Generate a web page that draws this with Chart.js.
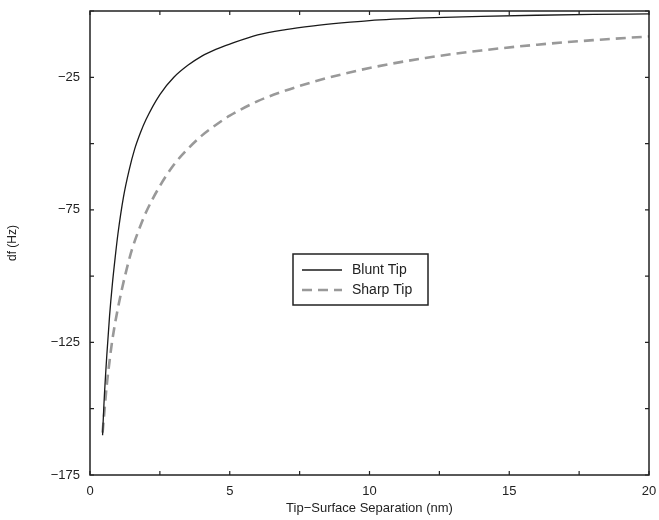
<!DOCTYPE html>
<html>
<head>
<meta charset="utf-8">
<script src="https://cdn.jsdelivr.net/npm/chart.js@4.4.0/dist/chart.umd.min.js"></script>
<style>
  html, body { margin: 0; padding: 0; background: #fff; }
  #wrap { width: 659px; height: 520px; }
</style>
</head>
<body>
<div id="wrap"><canvas id="myChart" width="659" height="520"></canvas></div>
<script>
// separation (nm) and frequency shift (Hz)
const bluntX = [0.45, 0.5, 0.6, 0.7, 0.8, 0.9, 1.0, 1.2, 1.4, 1.6, 1.8, 2.0, 2.5, 3.0, 3.5, 4, 4.5, 5, 6, 7, 8, 9, 10, 12, 14, 16, 18, 20]
const bluntY = [-160, -148, -130, -115, -103, -93, -84, -70, -60, -52, -46, -41, -31.5, -25, -20.5, -17, -14.5, -12.5, -9, -7, -5.6, -4.5, -3.6, -2.6, -2.0, -1.6, -1.3, -1.1]

const sharpX = [0.45, 0.5, 0.6, 0.7, 0.8, 1.0, 1.25, 1.5, 1.75, 2.0, 2.5, 3.0, 3.5, 4, 4.5, 5, 6, 7, 8, 9, 10, 12, 14, 16, 18, 20]
const sharpY = [-159, -153, -141, -132, -124, -112, -100, -90, -82.5, -76, -66, -58, -52, -47, -43, -39.5, -34, -30, -26.7, -23.9, -21.5, -17.7, -14.9, -12.7, -11, -9.6]

const seriesNames = ['Blunt Tip', 'Sharp Tip']
const xTitle = 'Tip\u2212Surface Separation (nm)'
const yTitle = 'df (Hz)'

function points(xs, ys) {
  let arr = []
  for (let i = 0; i < xs.length; i++) {
    arr.push({ x: xs[i], y: ys[i] })
  }
  return arr
}

const fontFamily = '"Liberation Sans", Arial, Helvetica, sans-serif'

// frame, inward ticks and the boxed legend in the middle
const framePlugin = {
  id: 'frame',
  afterDraw(chart) {
    const ctx = chart.ctx
    const a = chart.chartArea
    const xs = chart.scales.x
    const ys = chart.scales.y
    ctx.save()
    ctx.strokeStyle = '#222'
    ctx.lineWidth = 1.5
    ctx.strokeRect(a.left, a.top, a.right - a.left, a.bottom - a.top)
    ctx.lineWidth = 1.2
    ctx.beginPath()
    xs.ticks.forEach(t => {
      const px = xs.getPixelForValue(t.value)
      ctx.moveTo(px, a.bottom); ctx.lineTo(px, a.bottom - 4)
      ctx.moveTo(px, a.top); ctx.lineTo(px, a.top + 4)
    })
    ys.ticks.forEach(t => {
      const py = ys.getPixelForValue(t.value)
      ctx.moveTo(a.left, py); ctx.lineTo(a.left + 4, py)
      ctx.moveTo(a.right, py); ctx.lineTo(a.right - 4, py)
    })
    ctx.stroke()

    // legend box
    const bx = 293, by = 254, bw = 135, bh = 51
    ctx.fillStyle = '#fff'
    ctx.fillRect(bx, by, bw, bh)
    ctx.strokeStyle = '#222'
    ctx.lineWidth = 1.5
    ctx.strokeRect(bx, by, bw, bh)
    ctx.font = '14px ' + fontFamily
    ctx.textBaseline = 'middle'
    chart.data.datasets.forEach((ds, i) => {
      const ry = by + 16 + i * 20
      ctx.strokeStyle = ds.borderColor
      ctx.lineWidth = ds.borderWidth
      ctx.setLineDash(ds.borderDash || [])
      ctx.beginPath()
      ctx.moveTo(bx + 9, ry); ctx.lineTo(bx + 49, ry)
      ctx.stroke()
      ctx.setLineDash([])
      ctx.fillStyle = '#222'
      ctx.fillText(ds.label, bx + 59, ry)
    })
    ctx.restore()
  }
}

const data = {
  datasets: [
    {
      label: seriesNames[0],
      data: points(bluntX, bluntY),
      borderColor: '#1a1a1a',
      borderWidth: 1.3,
      pointRadius: 0,
      showLine: true,
      fill: false,
      cubicInterpolationMode: 'monotone',
    },
    {
      label: seriesNames[1],
      data: points(sharpX, sharpY),
      borderColor: '#999999',
      borderWidth: 2.6,
      borderDash: [10, 6],
      pointRadius: 0,
      showLine: true,
      fill: false,
      cubicInterpolationMode: 'monotone',
    },
  ],
}

const config = {
  type: 'scatter',
  data: data,
  options: {
    responsive: false,
    animation: false,
    layout: { padding: { left: 0, top: 11, right: 10, bottom: 4 } },
    scales: {
      x: {
        type: 'linear',
        min: 0,
        max: 20,
        grid: { display: false, drawTicks: false },
        border: { display: false },
        ticks: {
          stepSize: 2.5,
          padding: 9,
          color: '#222',
          font: { size: 13, family: fontFamily },
          callback: v => (v % 5 === 0 ? String(v) : ''),
          maxRotation: 0,
          autoSkip: false,
        },
        title: {
          display: true,
          text: xTitle,
          color: '#222',
          padding: { top: 0, bottom: 0 },
          font: { size: 13, family: fontFamily },
        },
        afterFit: s => { s.height = 41; s.paddingLeft = 0; s.paddingRight = 0 },
      },
      y: {
        type: 'linear',
        min: -175,
        max: 0,
        grid: { display: false, drawTicks: false },
        border: { display: false },
        ticks: {
          stepSize: 25,
          padding: 10,
          color: '#222',
          font: { size: 13, family: fontFamily },
          callback: v => (v % 50 !== 0 ? String(v).replace('-', '\u2212') : ''),
          autoSkip: false,
        },
        title: {
          display: true,
          text: yTitle,
          color: '#222',
          padding: { top: 5, bottom: 4 },
          font: { size: 12, family: fontFamily },
        },
        afterFit: s => { s.width = 90; s.paddingTop = 0; s.paddingBottom = 0 },
      },
    },
    plugins: {
      legend: { display: false },
      tooltip: { enabled: false },
    },
  },
  plugins: [framePlugin],
}

const chart = new Chart(document.getElementById('myChart'), config)
</script>
</body>
</html>
